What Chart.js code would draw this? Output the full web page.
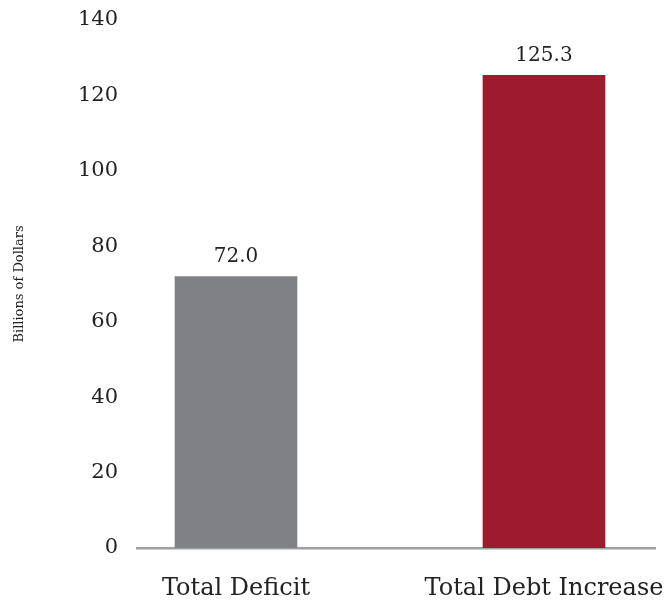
<!DOCTYPE html>
<html>
<head>
<meta charset="utf-8">
<script src="https://cdn.jsdelivr.net/npm/chart.js@4"></script>
<style>
  html, body { margin: 0; padding: 0; background: #fff; }
  #wrap { width: 671px; height: 601px; position: relative; }
</style>
</head>
<body>
<div id="wrap"><canvas id="chart"></canvas></div>
<script>
const categories = ['Total Deficit', 'Total Debt Increase'];
const values = [72.0, 125.3];
const barColors = ['#808185', '#9e1b2f'];
const yTicks = [0, 20, 40, 60, 80, 100, 120, 140];

const FONT = "'DejaVu Serif', serif";

// value labels above each bar
const valueLabels = {
  id: 'valueLabels',
  afterDatasetsDraw(chart) {
    const ctx = chart.ctx;
    const meta = chart.getDatasetMeta(0);
    ctx.save();
    ctx.font = '20px ' + FONT;
    ctx.fillStyle = '#222';
    ctx.textAlign = 'center';
    ctx.textBaseline = 'bottom';
    meta.data.forEach((bar, i) => {
      ctx.fillText(values[i].toFixed(1), bar.x, bar.y - 10);
    });
    ctx.restore();
  }
};

new Chart(document.getElementById('chart').getContext('2d'), {
  type: 'bar',
  data: {
    datasets: [{
      data: values.map((v, i) => ({ x: i, y: v })),
      backgroundColor: barColors,
      barThickness: 122,
      borderWidth: 0
    }]
  },
  options: {
    responsive: true,
    maintainAspectRatio: false,
    animation: false,
    layout: { padding: { top: 20, right: 16, bottom: 0, left: 0 } },
    plugins: {
      legend: { display: false },
      tooltip: { enabled: false }
    },
    scales: {
      x: {
        type: 'linear',
        offset: false,
        min: -0.3214,
        max: 1.3604,
        grid: { display: false, drawTicks: false },
        border: { display: true, color: '#a0a0a0', width: 2.5 },
        afterBuildTicks: s => { s.ticks = categories.map((c, i) => ({ value: i })); },
        afterFit: s => {
          s.height = 53;
          s.paddingLeft = 0;
          s.paddingRight = 0;
        },
        ticks: {
          padding: 26,
          color: '#222',
          font: { family: FONT, size: 24 },
          maxRotation: 0,
          callback: v => categories[v]
        }
      },
      y: {
        min: 0,
        max: 140,
        grid: { display: false, drawTicks: false },
        border: { display: false },
        afterBuildTicks: s => { s.ticks = yTicks.map(v => ({ value: v })); },
        afterFit: s => {
          s.width = 137;
          s.paddingTop = 0;
          s.paddingBottom = 0;
        },
        ticks: {
          padding: 19,
          color: '#222',
          font: { family: FONT, size: 21 }
        },
        title: {
          display: true,
          text: 'Billions of Dollars',
          color: '#222',
          font: { family: FONT, size: 13 },
          padding: { top: 12, bottom: 0 }
        }
      }
    }
  },
  plugins: [valueLabels]
});
</script>
</body>
</html>
